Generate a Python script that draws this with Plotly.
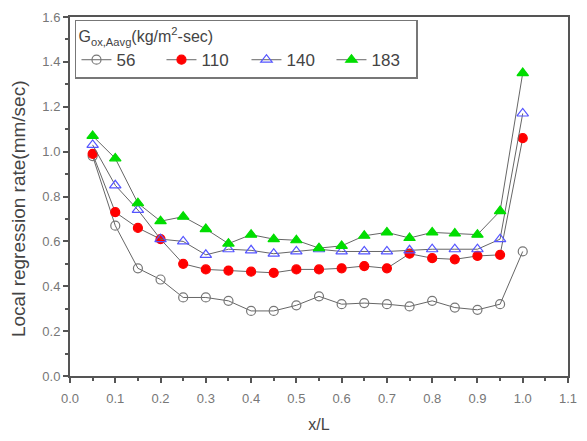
import plotly.graph_objects as go

x_vals = [0.05, 0.1, 0.15, 0.2, 0.25, 0.3, 0.35, 0.4, 0.45, 0.5,
          0.55, 0.6, 0.65, 0.7, 0.75, 0.8, 0.85, 0.9, 0.95, 1.0]
g56 = [0.98, 0.67, 0.48, 0.43, 0.35, 0.35, 0.335, 0.29, 0.29, 0.315,
       0.355, 0.32, 0.325, 0.32, 0.31, 0.335, 0.305, 0.295, 0.32, 0.555]
g110 = [0.99, 0.73, 0.66, 0.61, 0.50, 0.475, 0.47, 0.465, 0.46, 0.475,
        0.475, 0.48, 0.49, 0.48, 0.545, 0.525, 0.52, 0.535, 0.54, 1.06]
g140 = [1.03, 0.85, 0.74, 0.61, 0.60, 0.54, 0.565, 0.56, 0.545, 0.555,
        0.565, 0.555, 0.555, 0.555, 0.56, 0.565, 0.565, 0.565, 0.61, 1.17]
g183 = [1.07, 0.97, 0.77, 0.69, 0.71, 0.655, 0.59, 0.63, 0.61, 0.605,
        0.57, 0.58, 0.625, 0.64, 0.615, 0.64, 0.635, 0.63, 0.735, 1.35]
names = ["56", "110", "140", "183"]
y_title = "Local regression rate(mm/sec)"
x_title = "x/L"
legend_title = "G<sub>ox,Aavg</sub>(kg/m<sup>2</sup>-sec)"

line_col = "#666666"
styles = [
    dict(symbol="circle-open", color="#777777", size=9),
    dict(symbol="circle", color="#ff0000", size=9),
    dict(symbol="triangle-up-open", color="#5555ff", size=10),
    dict(symbol="triangle-up", color="#00dd00", size=10),
]

fig = go.Figure()
for name, ys, st in zip(names, [g56, g110, g140, g183], styles):
    fig.add_trace(go.Scatter(
        x=x_vals, y=ys, name=name, mode="lines+markers",
        line=dict(color=line_col, width=1),
        marker=dict(symbol=st["symbol"], color=st["color"], size=st["size"],
                    line=dict(color=st["color"], width=1.2)),
    ))

axis_common = dict(
    showline=True, linecolor="#555555", linewidth=2, mirror=True,
    ticks="outside", ticklen=5, tickcolor="#555555", tickwidth=1.5,
    showgrid=False, zeroline=False,
    tickfont=dict(family="Liberation Sans, Arial", size=13, color="#777777"),
)

fig.update_layout(
    width=587, height=441,
    margin=dict(l=70, r=17, t=10, b=61),
    plot_bgcolor="white", paper_bgcolor="white",
    font=dict(family="Liberation Sans, Arial", color="#444444"),
    xaxis=dict(range=[0, 1.1], dtick=0.1, tickformat=".1f",
               minor=dict(ticks="outside", dtick=0.05, ticklen=3, tickcolor="#555555"),
               ticklabelstandoff=4,
               title=dict(text=x_title, font=dict(size=16, color="#444444"), standoff=14),
               **axis_common),
    yaxis=dict(range=[0, 1.6], dtick=0.2, tickformat=".1f",
               minor=dict(ticks="outside", dtick=0.1, ticklen=3, tickcolor="#555555"),
               **axis_common),
    legend=dict(
        orientation="h", x=0.01, y=0.992, xanchor="left", yanchor="top",
        bgcolor="white", bordercolor="#777777", borderwidth=1.5,
        title=dict(text=legend_title, side="top", font=dict(size=16, color="#444444")),
        font=dict(size=17, color="#444444"),
        entrywidth=40, entrywidthmode="pixels", tracegroupgap=0,
    ),
    annotations=[dict(
        text=y_title, textangle=-90, showarrow=False,
        xref="paper", yref="paper", x=0, y=0.465, xanchor="center", yanchor="middle",
        xshift=-52, font=dict(size=19, color="#444444"),
    )],
)

fig.write_html("out.html")
